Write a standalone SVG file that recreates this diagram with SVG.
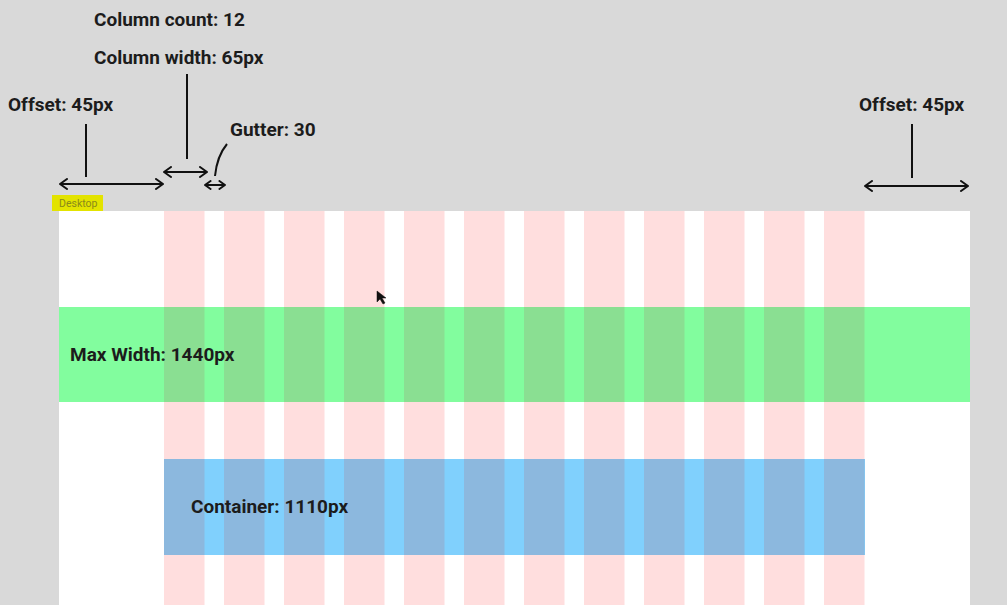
<svg xmlns="http://www.w3.org/2000/svg" width="1007" height="605" viewBox="0 0 1007 605">
<defs>
<marker id="chev" viewBox="0 0 10 12" refX="9" refY="6" markerWidth="10" markerHeight="12" markerUnits="userSpaceOnUse" orient="auto-start-reverse">
<path d="M2,1 L9,6 L2,11" fill="none" stroke="#111" stroke-width="2" stroke-linecap="round" stroke-linejoin="round"/>
</marker>
<marker id="chevs" viewBox="0 0 10 12" refX="9" refY="6" markerWidth="8" markerHeight="10" markerUnits="userSpaceOnUse" orient="auto-start-reverse">
<path d="M2,1 L9,6 L2,11" fill="none" stroke="#111" stroke-width="2.4" stroke-linecap="round" stroke-linejoin="round"/>
</marker>
</defs>
<style>
.lbl{font-family:Roboto,"Liberation Sans",sans-serif;font-weight:bold;font-size:19px;fill:#1c1c1c}
.ln{stroke:#111;stroke-width:2;fill:none}
.col{fill:#ffdede}
.colg{fill:#8adf92}
.colb{fill:#8cb8de}
</style>
<rect x="0" y="0" width="1007" height="605" fill="#d9d9d9"/>
<g id="canvas">
<rect x="59" y="211" width="911" height="394" fill="#ffffff"/>
</g>
<g id="columns">
<rect class="col" x="164" y="211" width="40.5" height="394"/>
<rect class="col" x="224" y="211" width="40.5" height="394"/>
<rect class="col" x="284" y="211" width="40.5" height="394"/>
<rect class="col" x="344" y="211" width="40.5" height="394"/>
<rect class="col" x="404" y="211" width="40.5" height="394"/>
<rect class="col" x="464" y="211" width="40.5" height="394"/>
<rect class="col" x="524" y="211" width="40.5" height="394"/>
<rect class="col" x="584" y="211" width="40.5" height="394"/>
<rect class="col" x="644" y="211" width="40.5" height="394"/>
<rect class="col" x="704" y="211" width="40.5" height="394"/>
<rect class="col" x="764" y="211" width="40.5" height="394"/>
<rect class="col" x="824" y="211" width="40.5" height="394"/>
</g>
<g id="maxwidth">
<rect x="59" y="307" width="911" height="95" fill="#82fd9e"/>
<rect class="colg" x="164" y="307" width="40.5" height="95"/>
<rect class="colg" x="224" y="307" width="40.5" height="95"/>
<rect class="colg" x="284" y="307" width="40.5" height="95"/>
<rect class="colg" x="344" y="307" width="40.5" height="95"/>
<rect class="colg" x="404" y="307" width="40.5" height="95"/>
<rect class="colg" x="464" y="307" width="40.5" height="95"/>
<rect class="colg" x="524" y="307" width="40.5" height="95"/>
<rect class="colg" x="584" y="307" width="40.5" height="95"/>
<rect class="colg" x="644" y="307" width="40.5" height="95"/>
<rect class="colg" x="704" y="307" width="40.5" height="95"/>
<rect class="colg" x="764" y="307" width="40.5" height="95"/>
<rect class="colg" x="824" y="307" width="40.5" height="95"/>
<text class="lbl" x="70" y="361">Max Width: 1440px</text>
</g>
<g id="container">
<rect x="164" y="459" width="701" height="96" fill="#80d0fd"/>
<rect class="colb" x="164" y="459" width="40.5" height="96"/>
<rect class="colb" x="224" y="459" width="40.5" height="96"/>
<rect class="colb" x="284" y="459" width="40.5" height="96"/>
<rect class="colb" x="344" y="459" width="40.5" height="96"/>
<rect class="colb" x="404" y="459" width="40.5" height="96"/>
<rect class="colb" x="464" y="459" width="40.5" height="96"/>
<rect class="colb" x="524" y="459" width="40.5" height="96"/>
<rect class="colb" x="584" y="459" width="40.5" height="96"/>
<rect class="colb" x="644" y="459" width="40.5" height="96"/>
<rect class="colb" x="704" y="459" width="40.5" height="96"/>
<rect class="colb" x="764" y="459" width="40.5" height="96"/>
<rect class="colb" x="824" y="459" width="40.5" height="96"/>
<text class="lbl" x="191" y="513">Container: 1110px</text>
</g>
<g id="desktop-tag">
<rect x="52" y="195" width="51" height="16" fill="#e3e300"/>
<text x="59" y="207" font-family="Roboto,'Liberation Sans',sans-serif" font-size="10.5" fill="#8a8a1a">Desktop</text>
</g>
<g id="labels">
<text class="lbl" x="94" y="26">Column count: 12</text>
<text class="lbl" x="94" y="64">Column width: 65px</text>
<text class="lbl" x="8" y="111">Offset: 45px</text>
<text class="lbl" x="230" y="136">Gutter: 30</text>
<text class="lbl" x="859" y="111">Offset: 45px</text>
</g>
<g id="connectors">
<line class="ln" x1="86" y1="124" x2="86" y2="177"/>
<line class="ln" x1="60" y1="184" x2="163" y2="184" marker-start="url(#chev)" marker-end="url(#chev)"/>
<line class="ln" x1="187" y1="74" x2="187" y2="159"/>
<line class="ln" x1="164" y1="172" x2="207" y2="172" marker-start="url(#chev)" marker-end="url(#chev)"/>
<path class="ln" d="M227,144 Q217,156 215,176"/>
<line class="ln" x1="205" y1="185" x2="225" y2="185" marker-start="url(#chevs)" marker-end="url(#chevs)"/>
<line class="ln" x1="912" y1="124" x2="912" y2="178"/>
<line class="ln" x1="865" y1="186" x2="968" y2="186" marker-start="url(#chev)" marker-end="url(#chev)"/>
</g>
<g id="cursor">
<path d="M377,291 L377,302 L380,299 L383,304 L385,303 L382,298 L386,298 Z" fill="#111" stroke="#111" stroke-width="0.5"/>
</g>
</svg>
